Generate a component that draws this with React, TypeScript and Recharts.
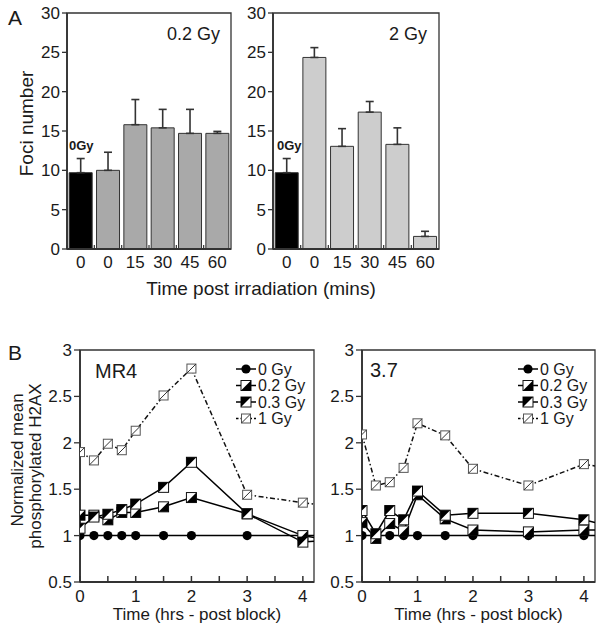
import React from 'react';
import { BarChart, Bar, XAxis, YAxis, Cell, ErrorBar, LineChart, Line, Legend, ReferenceArea } from 'recharts';

// ---- Panel A data ----
const fociCategories = ['0', '0', '15', '30', '45', '60'];
const foci02Gy = [9.7, 10.0, 15.8, 15.4, 14.7, 14.7];
const foci02GyErr = [1.8, 2.3, 3.2, 2.35, 3.05, 0.25];
const foci2Gy = [9.7, 24.35, 13.05, 17.4, 13.3, 1.6];
const foci2GyErr = [1.8, 1.25, 2.25, 1.35, 2.1, 0.65];
const fociTicks = [0, 5, 10, 15, 20, 25, 30];

// ---- Panel B data ----
const timeHrs = [0, 0.25, 0.5, 0.75, 1, 1.5, 2, 3, 4, 4.2];
const mr4Gy0 = [1, 1, 1, 1, 1, 1, 1, 1, 1, 1];
const mr4Gy02 = [1.22, 1.22, 1.17, 1.25, 1.25, 1.31, 1.41, 1.235, 1.0, 0.98];
const mr4Gy03 = [1.08, 1.2, 1.23, 1.28, 1.34, 1.52, 1.79, 1.235, 0.93, 0.94];
const mr4Gy1 = [1.9, 1.81, 1.99, 1.92, 2.13, 2.51, 2.8, 1.44, 1.355, 1.34];
const c37Gy0 = [1, 1, 1, 1, 1, 1, 1, 1, 1, 1];
const c37Gy02 = [1.14, 0.97, 1.13, 1.05, 1.44, 1.18, 1.06, 1.04, 1.06, 1.06];
const c37Gy03 = [1.27, 1.02, 1.27, 1.17, 1.48, 1.22, 1.24, 1.24, 1.17, 1.14];
const c37Gy1 = [2.09, 1.54, 1.575, 1.73, 2.21, 2.08, 1.72, 1.54, 1.77, 1.75];
const seriesNames = ['0 Gy', '0.2 Gy', '0.3 Gy', '1 Gy'];
const h2axTicks = [0.5, 1, 1.5, 2, 2.5, 3];
const timeTicks = [0, 0.5, 1, 1.5, 2, 2.5, 3, 3.5, 4];

const FONT = '"Liberation Sans", Arial, Helvetica, sans-serif';
const INK = '#1a1a1a';
const AX = '#333';

const barData = (vals: number[], errs: number[]) =>
  vals.map((v, i) => ({ idx: i, value: v, err: [0, errs[i]] }));

const lineData = (a: number[], b: number[], c: number[], d: number[]) =>
  timeHrs.map((t, i) => ({ t, g0: a[i], g02: b[i], g03: c[i], g1: d[i] }));

// ---- markers ----
const drawCircle = (cx: number, cy: number) => <circle cx={cx} cy={cy} r={4.6} fill="#000" />;
const drawSq02 = (cx: number, cy: number) => (
  <g>
    <rect x={cx - 5} y={cy - 5} width={10} height={10} fill="#fff" stroke="#111" strokeWidth={1} />
    <polygon points={`${cx + 5},${cy - 5} ${cx + 5},${cy + 5} ${cx - 5},${cy + 5}`} fill="#000" />
  </g>
);
const drawSq03 = (cx: number, cy: number) => (
  <g>
    <rect x={cx - 5} y={cy - 5} width={10} height={10} fill="#fff" stroke="#111" strokeWidth={1} />
    <polygon points={`${cx - 5},${cy - 5} ${cx + 5},${cy - 5} ${cx - 5},${cy + 5}`} fill="#000" />
  </g>
);
const drawSq1 = (cx: number, cy: number) => (
  <g>
    <rect x={cx - 4.5} y={cy - 4.5} width={9} height={9} fill="#fff" stroke="#555" strokeWidth={1} />
    <line x1={cx - 4.5} y1={cy + 4.5} x2={cx + 4.5} y2={cy - 4.5} stroke="#333" strokeWidth={1} />
  </g>
);
const drawers = [drawCircle, drawSq02, drawSq03, drawSq1];

const makeDot = (draw: (x: number, y: number) => React.ReactElement) => (props: any) => {
  const { cx, cy, index, payload } = props;
  if (cx == null || cy == null || (payload && payload.t > 4.05)) return <g key={`e${index}`} />;
  return <g key={`d${index}`}>{draw(cx, cy)}</g>;
};

const DASH1 = '5 2.5 1.5 2.5';

const LegendBox = () => (
  <svg width={90} height={70} style={{ display: 'block', overflow: 'visible' }}>
    {seriesNames.map((n, i) => {
      const y = 8 + i * 16.5;
      return (
        <g key={n}>
          <line x1={2} x2={22} y1={y} y2={y} stroke="#000" strokeWidth={1.5} strokeDasharray={i === 3 ? '2.5 2' : undefined} />
          {drawers[i](12, y)}
          <text x={24} y={y + 5.8} fontSize={16} fontFamily={FONT} fill={INK}>{n}</text>
        </g>
      );
    })}
  </svg>
);

// ---- custom ticks ----
const makeBarXTick = (band: number) => (props: any) => {
  const { x, y, payload } = props;
  const axisY = y - 7;
  return (
    <g>
      <line x1={x - band / 2} x2={x - band / 2} y1={axisY} y2={axisY - 4} stroke={AX} strokeWidth={1.2} />
      <text x={x} y={axisY + 7} dy="0.71em" textAnchor="middle" fontSize={17} fontFamily={FONT} fill={INK}>
        {fociCategories[payload.value]}
      </text>
    </g>
  );
};

const TimeTick = (props: any) => {
  const { x, y, payload } = props;
  const axisY = y - 8;
  const v = payload.value;
  return (
    <g>
      <line x1={x} x2={x} y1={axisY} y2={axisY - 6} stroke={AX} strokeWidth={1.5} />
      {Number.isInteger(v) ? (
        <text x={x} y={axisY + 8} dy="0.71em" textAnchor="middle" fontSize={17} fontFamily={FONT} fill={INK}>
          {v}
        </text>
      ) : null}
    </g>
  );
};

const yTickStyle = { fontSize: 17, fontFamily: FONT, fill: INK };

const FociPanel = ({ vals, errs, fill, yWidth, width, right }: any) => {
  const data = barData(vals, errs);
  const plotW = width - yWidth - right;
  return (
    <BarChart width={width} height={280} data={data} margin={{ top: 13, right, left: 0, bottom: 6 }} barCategoryGap="8%">
      <XAxis dataKey="idx" type="category" height={25} tickLine={false} tickSize={0} tickMargin={7}
        axisLine={{ stroke: AX, strokeWidth: 1.8 }} tick={makeBarXTick(plotW / 6)} interval={0} />
      <YAxis type="number" domain={[0, 30]} ticks={fociTicks} width={yWidth} tickSize={5} tickMargin={2}
        axisLine={{ stroke: AX, strokeWidth: 1.8 }} tickLine={{ stroke: AX, strokeWidth: 1.3 }} tick={yTickStyle} />
      <ReferenceArea y1={0} y2={30} fill="none" fillOpacity={0} stroke={AX} strokeWidth={1.3} ifOverflow="visible" />
      <Bar dataKey="value" stroke="#333" strokeWidth={1} isAnimationActive={false}>
        {data.map((d, i) => (
          <Cell key={i} fill={i === 0 ? '#000' : fill} />
        ))}
        <ErrorBar dataKey="err" width={4} stroke="#333" strokeWidth={1.6} direction="y" />
      </Bar>
    </BarChart>
  );
};

const H2axPanel = ({ data, yWidth, width, right, legendLeft }: any) => (
  <LineChart width={width} height={301} data={data} margin={{ top: 20, right, left: 0, bottom: 24 }}>
    <XAxis dataKey="t" type="number" domain={[0, 4.2]} ticks={timeTicks} height={25} tickLine={false} tickSize={0}
      tickMargin={8} interval={0} allowDataOverflow axisLine={{ stroke: AX, strokeWidth: 1.8 }} tick={TimeTick} />
    <YAxis type="number" domain={[0.5, 3]} ticks={h2axTicks} width={yWidth} tickSize={6} tickMargin={2}
      axisLine={{ stroke: AX, strokeWidth: 1.8 }} tickLine={{ stroke: AX, strokeWidth: 1.3 }} tick={yTickStyle} />
    <ReferenceArea x1={0} x2={4.2} y1={0.5} y2={3} fill="none" fillOpacity={0} stroke={AX} strokeWidth={1.3} ifOverflow="visible" />
    <Legend layout="vertical" align="center" verticalAlign="middle" content={() => <LegendBox />}
      wrapperStyle={{ position: 'absolute', left: legendLeft, top: 31, width: 90, height: 70 }} />
    <Line dataKey="g0" name={seriesNames[0]} stroke="#000" strokeWidth={1.5} dot={makeDot(drawCircle)} activeDot={false} isAnimationActive={false} />
    <Line dataKey="g02" name={seriesNames[1]} stroke="#000" strokeWidth={1.5} dot={makeDot(drawSq02)} activeDot={false} isAnimationActive={false} />
    <Line dataKey="g03" name={seriesNames[2]} stroke="#000" strokeWidth={1.5} dot={makeDot(drawSq03)} activeDot={false} isAnimationActive={false} />
    <Line dataKey="g1" name={seriesNames[3]} stroke="#111" strokeWidth={1.5} strokeDasharray={DASH1} dot={makeDot(drawSq1)} activeDot={false} isAnimationActive={false} />
  </LineChart>
);

const T = (p: any) => <text fontFamily={FONT} fill={INK} {...p} />;

export default function App() {
  return (
    <div style={{ position: 'absolute', left: 0, top: 0, width: 602, height: 631, background: '#fff', fontFamily: FONT }}>
      <div style={{ position: 'absolute', left: 0, top: 0 }}>
        <FociPanel vals={foci02Gy} errs={foci02GyErr} fill="#a9a9a9" yWidth={67} width={240} right={9} />
      </div>
      <div style={{ position: 'absolute', left: 240, top: 0 }}>
        <FociPanel vals={foci2Gy} errs={foci2GyErr} fill="#cdcdcd" yWidth={33} width={210} right={11} />
      </div>
      <div style={{ position: 'absolute', left: 0, top: 330 }}>
        <H2axPanel data={lineData(mr4Gy0, mr4Gy02, mr4Gy03, mr4Gy1)} yWidth={80} width={320} right={6} legendLeft={234} />
      </div>
      <div style={{ position: 'absolute', left: 320, top: 330 }}>
        <H2axPanel data={lineData(c37Gy0, c37Gy02, c37Gy03, c37Gy1)} yWidth={42} width={282} right={7} legendLeft={196} />
      </div>
      <svg width={602} height={631} style={{ position: 'absolute', left: 0, top: 0, pointerEvents: 'none' }}>
        <T x={8} y={25} fontSize={21}>A</T>
        <T x={8} y={360} fontSize={21}>B</T>
        <T x={33} y={123.5} fontSize={19} textAnchor="middle" transform="rotate(-90 33 123.5)">Foci number</T>
        <T x={261} y={295} fontSize={19} textAnchor="middle">Time post irradiation (mins)</T>
        <T x={167} y={40} fontSize={18}>0.2 Gy</T>
        <T x={389} y={40} fontSize={18}>2 Gy</T>
        <T x={69} y={150} fontSize={13} fontWeight="bold">0Gy</T>
        <T x={277} y={150} fontSize={13} fontWeight="bold">0Gy</T>
        <T x={95} y={378} fontSize={20}>MR4</T>
        <T x={370} y={377} fontSize={20}>3.7</T>
        <T x={23} y={460} fontSize={17} textAnchor="middle" transform="rotate(-90 23 460)">Normalized mean</T>
        <T x={41} y={466} fontSize={17} textAnchor="middle" transform="rotate(-90 41 466)">phosphorylated H2AX</T>
        <T x={197} y={620} fontSize={17} textAnchor="middle">Time (hrs - post block)</T>
        <T x={478.5} y={620} fontSize={17} textAnchor="middle">Time (hrs - post block)</T>
      </svg>
    </div>
  );
}
